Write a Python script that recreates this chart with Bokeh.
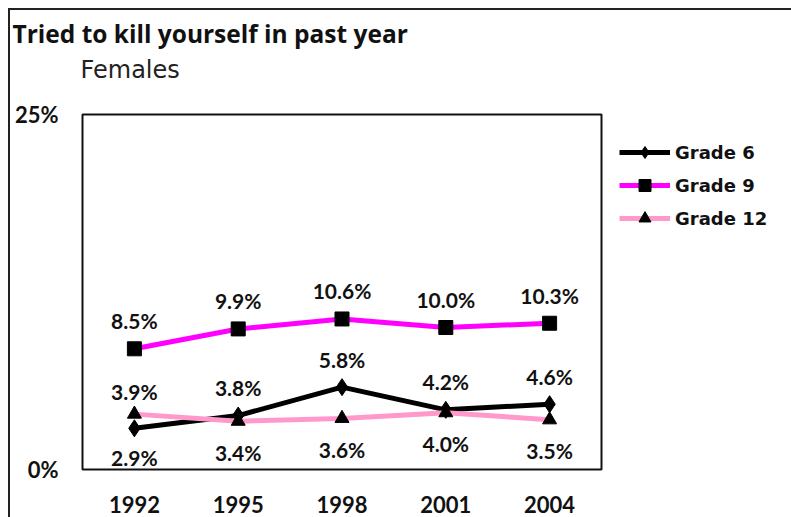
from bokeh.plotting import figure
from bokeh.layouts import column
from bokeh.models import (ColumnDataSource, FixedTicker, Legend, LegendItem,
                          Title)
from bokeh.embed import file_html
from bokeh.resources import INLINE

# --- data -------------------------------------------------------------
years = ["1992", "1995", "1998", "2001", "2004"]
grade6 = [2.9, 3.8, 5.8, 4.2, 4.6]
grade9 = [8.5, 9.9, 10.6, 10.0, 10.3]
grade12 = [3.9, 3.4, 3.6, 4.0, 3.5]
series_names = ["Grade 6", "Grade 9", "Grade 12"]
y_ticks = [0, 25]
y_tick_labels = ["0%", "25%"]
title_text = "Tried to kill yourself in past year"
subtitle_text = "Females"

p = figure(frame_width=519, frame_height=355, x_range=years, y_range=(0, 25),
           output_backend="svg", toolbar_location=None,
           min_border_left=72, min_border_right=0,
           min_border_top=100, min_border_bottom=62)
p.xgrid.visible = False
p.ygrid.visible = False
p.outline_line_color = "#111111"
p.outline_line_width = 2
p.background_fill_color = "white"
p.border_fill_color = "white"

# axes: only the frame line, no ticks
for ax in (p.xaxis[0], p.yaxis[0]):
    ax.axis_line_color = None
    ax.major_tick_line_color = None
    ax.minor_tick_line_color = None
    ax.major_label_text_font = "Lato"
    ax.major_label_text_font_style = "bold"
    ax.major_label_text_font_size = "22px"
    ax.major_label_text_color = "#111111"
p.yaxis.ticker = FixedTicker(ticks=y_ticks)
p.yaxis.major_label_overrides = {t: s for t, s in zip(y_ticks, y_tick_labels)}
p.yaxis.major_label_standoff = 18
p.xaxis.major_label_standoff = 20

# --- series -----------------------------------------------------------
styles = [
    dict(vals=grade6, color="#000000", marker="diamond", size=17),
    dict(vals=grade9, color="#FF00FF", marker="square", size=14),
    dict(vals=grade12, color="#FF99CC", marker="triangle", size=14),
]

items = []
for name, st in zip(series_names, styles):
    src = ColumnDataSource(dict(x=years, y=st["vals"]))
    ln = p.line("x", "y", source=src, line_color=st["color"], line_width=5)
    mk = p.scatter("x", "y", source=src, marker=st["marker"], size=st["size"],
                   fill_color="black", line_color="black")
    items.append(LegendItem(label=name, renderers=[ln, mk]))

# --- value labels -----------------------------------------------------
def add_labels(vals, offsets):
    src = ColumnDataSource(dict(x=years, y=vals,
                                t=[f"{v:.1f}%" for v in vals],
                                off=offsets))
    p.text("x", "y", text="t", source=src, y_offset="off",
           text_align="center", text_baseline="middle",
           text_font={"value": "Lato"}, text_font_style="bold",
           text_font_size="21px", text_color="#111111")

# Grade 9 labels sit above the line
add_labels(grade9, [-28] * len(grade9))
# Grade 6 / Grade 12: the higher value is labelled above, the lower below
off6, off12 = [], []
for a, b in zip(grade6, grade12):
    if a >= b:
        off6.append(-28)
        off12.append(31)
    else:
        off6.append(29)
        off12.append(-23)
add_labels(grade6, off6)
add_labels(grade12, off12)

# --- legend (right-hand panel) ------------------------------------------
# a tiny blank title nudges the entries down a few pixels
legend = Legend(items=items, location="top_left", orientation="vertical",
                title=" ", title_text_font_size="3px", title_standoff=1,
                border_line_color=None, background_fill_alpha=0,
                padding=0, margin=18, spacing=3,
                glyph_width=51, glyph_height=30, label_height=30,
                label_standoff=5,
                label_text_font="DejaVu Sans", label_text_font_style="bold",
                label_text_font_size="18px", label_text_color="#111111")
p.add_layout(legend, "right")

# --- titles (stacked upward from the frame) -----------------------------
p.add_layout(Title(text=" ", text_font_size="10px", standoff=18), "above")
p.add_layout(Title(text=subtitle_text, align="left", offset=-2, standoff=0,
                   text_font="DejaVu Sans", text_font_style="normal",
                   text_font_size="24px", text_color="#222222"), "above")
p.add_layout(Title(text=title_text, align="left", offset=-70, standoff=8,
                   text_font="Open Sans", text_font_style="bold",
                   text_font_size="24.5px", text_color="#111111"), "above")

# thin page border around the chart
page = column(p, styles={"border": "2px solid #222222",
                         "margin-left": "8px", "margin-top": "8px"})

open("out.html", "w").write(file_html(page, INLINE))
